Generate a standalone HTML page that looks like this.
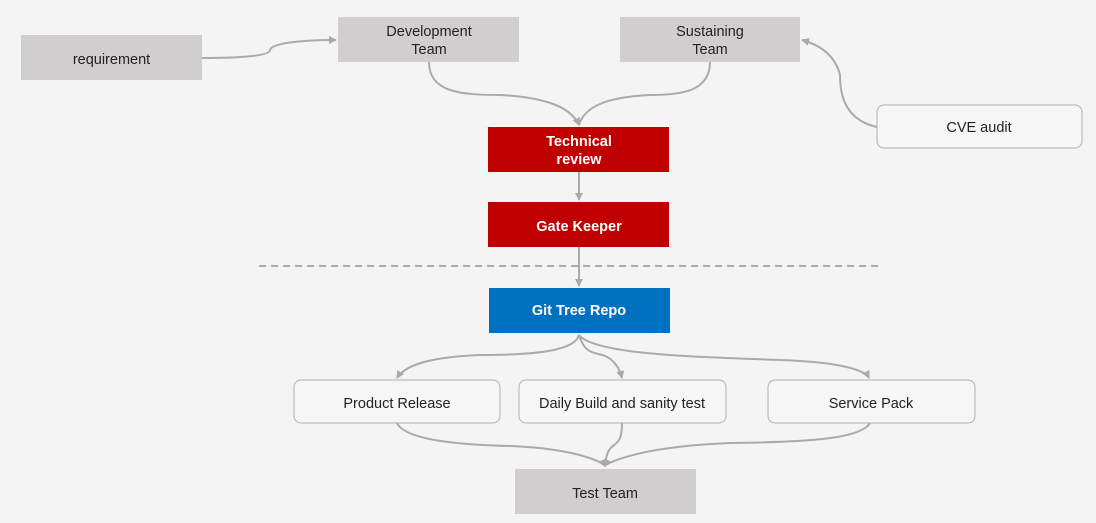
<!DOCTYPE html>
<html><head><meta charset="utf-8"><style>
html,body{margin:0;padding:0;background:#f4f4f4;}
svg{display:block;font-family:"Liberation Sans",sans-serif;font-size:14.5px;}
</style></head><body>
<svg width="1096" height="523" viewBox="0 0 1096 523" xmlns="http://www.w3.org/2000/svg">
<defs><marker id="a" markerWidth="8" markerHeight="8" refX="7" refY="4" orient="auto" markerUnits="userSpaceOnUse"><path d="M0,0 L8,4 L0,8 Z" fill="#aaa"/></marker></defs>
<rect width="1096" height="523" fill="#f4f4f4"/>
<g fill="none" stroke="#aaa" stroke-width="2">
<path d="M202,58 C240,58 270,56 270,50 C272,42 310,40 336,40" marker-end="url(#a)"/>
<path d="M429,62 C429,92 460,95 500,95 C540,97 570,105 579,125" marker-end="url(#a)"/>
<path d="M710,62 C710,92 680,95 650,95 C610,97 585,105 579,125"/>
<path d="M877,127 C845,120 840,95 840,75 C835,55 820,45 802,40" marker-end="url(#a)"/>
<path d="M579,172 L579,200" marker-end="url(#a)"/>
<path d="M579,247 L579,286" marker-end="url(#a)"/>
<path d="M579,335 C575,350 540,355 480,355 C430,357 405,365 397,378" marker-end="url(#a)"/>
<path d="M579,335 C585,355 595,352 605,356 C615,360 620,370 622,378" marker-end="url(#a)"/>
<path d="M579,335 C595,355 700,357 780,360 C840,362 865,370 869,378" marker-end="url(#a)"/>
<path d="M397,423 C405,440 460,445 510,446 C560,448 590,456 605,465"/>
<path d="M622,423 C622,440 618,442 613,446 C607,450 606,458 605,465"/>
<path d="M870,423 C860,440 800,442 730,443 C660,446 625,455 605,465"/>
</g>
<path d="M598,462 L605,467 L612,462 L605,459 Z" fill="#aaa"/>
<line x1="259" y1="266" x2="883" y2="266" stroke="#aaa" stroke-width="2" stroke-dasharray="7,5"/>
<rect x="21" y="35" width="181" height="45" fill="#d0cecf"/>
<text x="111.5" y="64" text-anchor="middle" fill="#222">requirement</text>
<rect x="338" y="17" width="181" height="45" fill="#d0cecf"/>
<text x="429" y="36" text-anchor="middle" fill="#222">Development</text>
<text x="429" y="54" text-anchor="middle" fill="#222">Team</text>
<rect x="620" y="17" width="180" height="45" fill="#d0cecf"/>
<text x="710" y="36" text-anchor="middle" fill="#222">Sustaining</text>
<text x="710" y="54" text-anchor="middle" fill="#222">Team</text>
<rect x="877" y="105" width="205" height="43" rx="7" fill="#f6f6f6" stroke="#b0b0b0"/>
<text x="979" y="132" text-anchor="middle" fill="#222">CVE audit</text>
<rect x="488" y="127" width="181" height="45" fill="#c00000"/>
<text x="579" y="146" text-anchor="middle" fill="#fff" font-weight="bold">Technical</text>
<text x="579" y="164" text-anchor="middle" fill="#fff" font-weight="bold">review</text>
<rect x="488" y="202" width="181" height="45" fill="#c00000"/>
<text x="579" y="231" text-anchor="middle" fill="#fff" font-weight="bold">Gate Keeper</text>
<rect x="489" y="288" width="181" height="45" fill="#0070c0"/>
<text x="579" y="315" text-anchor="middle" fill="#fff" font-weight="bold">Git Tree Repo</text>
<rect x="294" y="380" width="206" height="43" rx="7" fill="#f6f6f6" stroke="#b0b0b0"/>
<text x="397" y="408" text-anchor="middle" fill="#222">Product Release</text>
<rect x="519" y="380" width="207" height="43" rx="7" fill="#f6f6f6" stroke="#b0b0b0"/>
<text x="622" y="408" text-anchor="middle" fill="#222">Daily Build and sanity test</text>
<rect x="768" y="380" width="207" height="43" rx="7" fill="#f6f6f6" stroke="#b0b0b0"/>
<text x="871" y="408" text-anchor="middle" fill="#222">Service Pack</text>
<rect x="515" y="469" width="181" height="45" fill="#d0cecf"/>
<text x="605" y="498" text-anchor="middle" fill="#222">Test Team</text>
</svg>
</body></html>
